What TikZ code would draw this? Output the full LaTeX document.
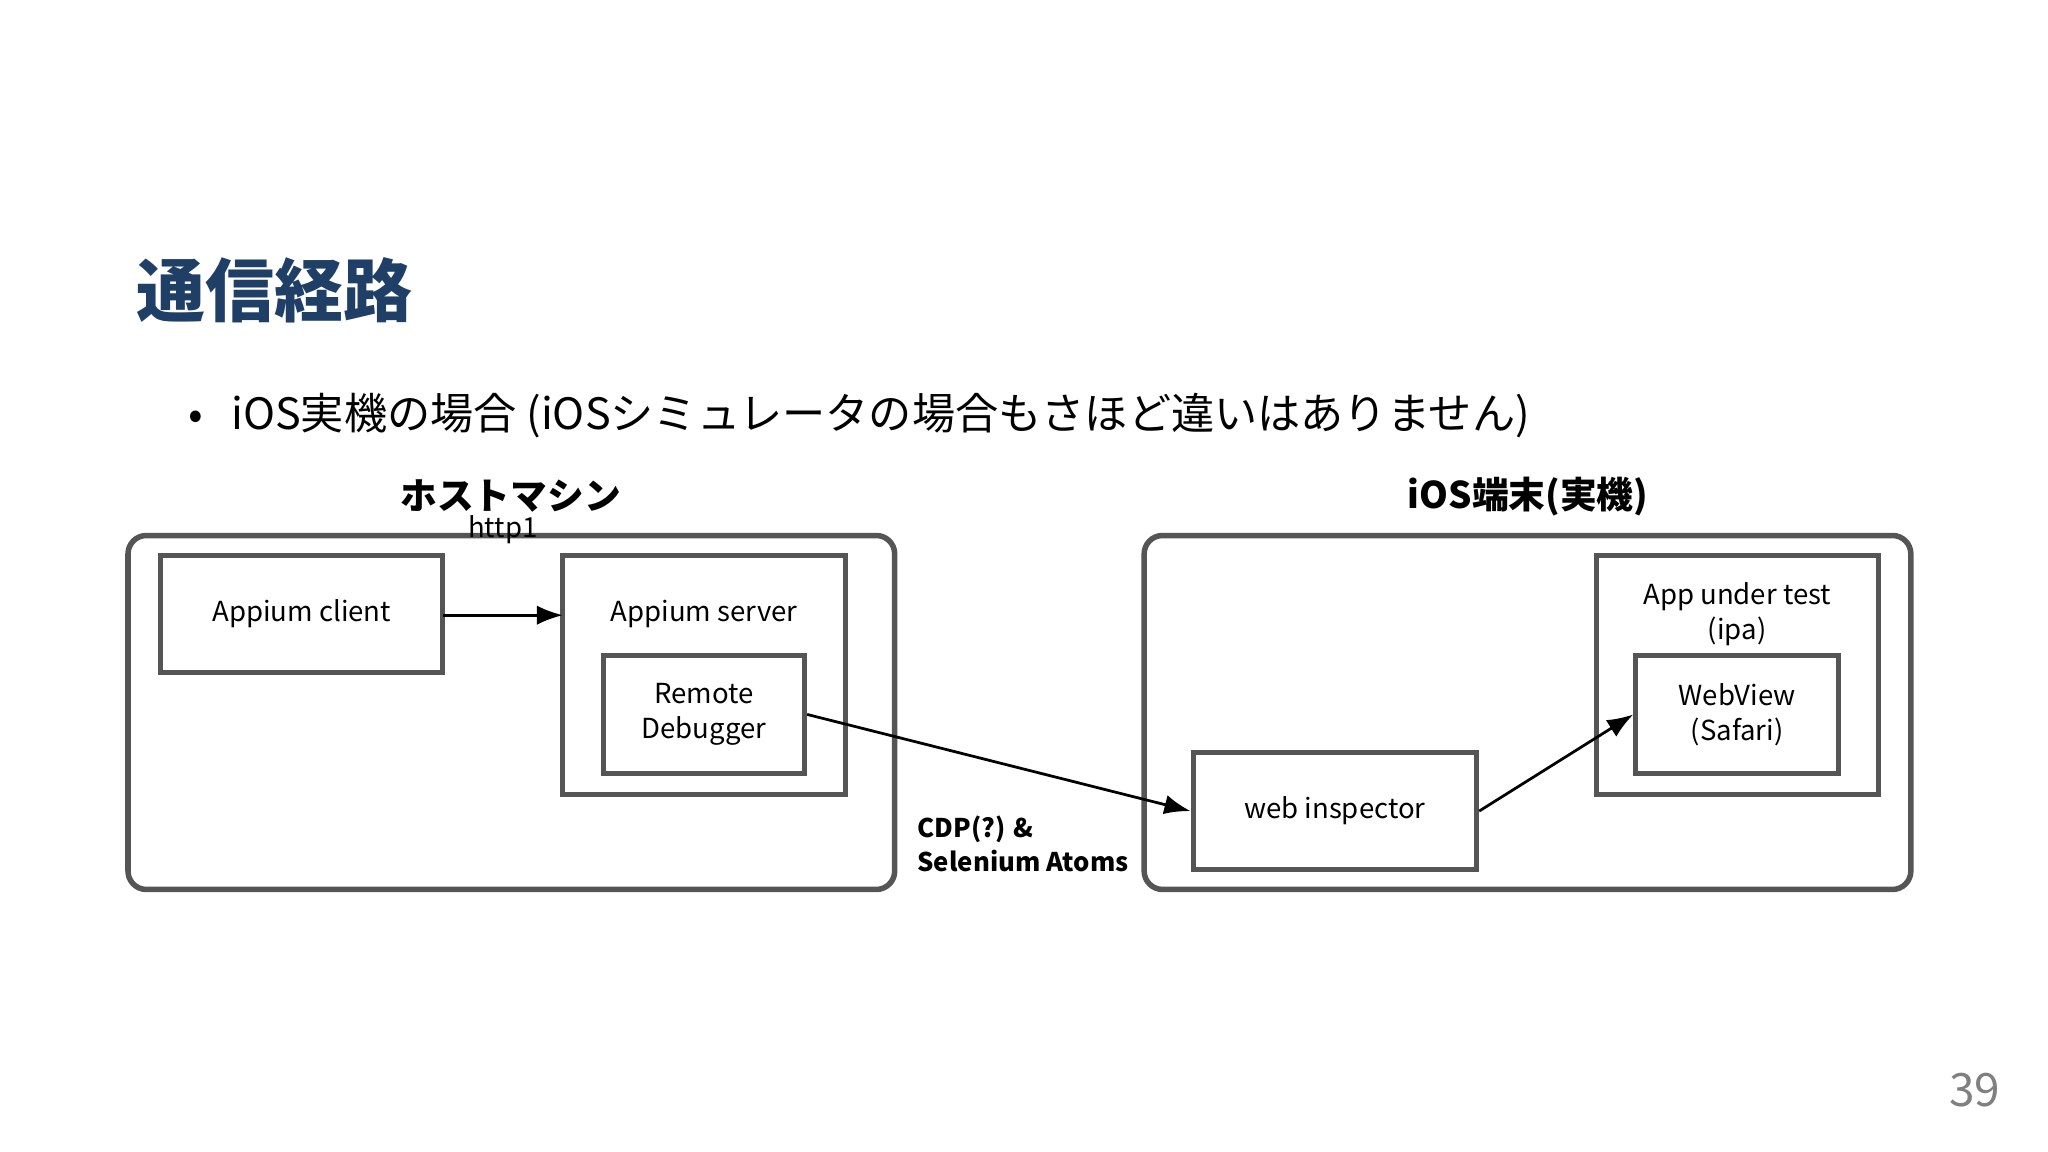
\documentclass[tikz,border=0pt]{standalone}
\usepackage{fontspec}
\setmainfont{Noto Sans CJK JP}
\usetikzlibrary{arrows.meta}
\definecolor{titleblue}{HTML}{1F3F66}
\definecolor{framegray}{HTML}{555555}
\tikzset{
  frame/.style={draw=framegray, line width=1.2pt, rounded corners=4pt},
  blk/.style={draw=framegray, line width=1.1pt, inner sep=0pt, font=\fontsize{6}{7.6}\selectfont, align=center},
  conn/.style={-{Latex[length=2mm]}, line width=0.6pt}
}
\begin{document}
\begin{tikzpicture}[x=0.01cm,y=-0.01cm]
\useasboundingbox (0,0) rectangle (1568,882);
\node[anchor=west, font=\fontsize{15}{18}\bfseries\selectfont, text=titleblue] (title) at (92,222) {通信経路};
\node[font=\fontsize{9.4}{11}\selectfont, anchor=west] (bullet) at (132,318) {•\hspace{4pt} iOS実機の場合 (iOSシミュレータの場合もさほど違いはありません)};
\node[font=\fontsize{8}{10}\bfseries\selectfont] (hostlbl) at (391,380) {ホストマシン};
\node[font=\fontsize{8}{10}\bfseries\selectfont] (ioslbl) at (1170,380) {iOS端末(実機)};
% outer frames
\draw[frame] (98,410) rectangle (685,681);
\draw[frame] (876,410) rectangle (1463,681);
% host side
\draw[blk] (123,425) rectangle (339,515);
\node[font=\fontsize{6}{7.6}\selectfont] (client) at (231,470) {Appium client};
\draw[blk] (431,425) rectangle (647,608);
\node[font=\fontsize{6}{7.6}\selectfont] (server) at (539,470) {Appium server};
\node[blk, minimum width=1.54cm, minimum height=0.9cm] (debugger) at (539,547) {Remote\\Debugger};
% device side
\draw[blk] (1222,425) rectangle (1438,608);
\node[font=\fontsize{6}{7.6}\selectfont, align=center] (aut) at (1330,470) {App under test\\(ipa)};
\node[blk, minimum width=1.55cm, minimum height=0.9cm] (webview) at (1330,547) {WebView\\(Safari)};
\node[blk, minimum width=2.17cm, minimum height=0.9cm] (inspector) at (1022,621) {web inspector};
% connectors
\coordinate (clientR) at (339,471);
\coordinate (serverL) at (431,471);
\draw[conn] (clientR) -- (serverL) node[midway, above=12pt, font=\fontsize{6}{7.6}\selectfont] {http1};
\draw[conn] (debugger.east) -- (inspector.west);
\draw[conn] (inspector.east) -- (webview.west);
\node[anchor=north west, align=left, font=\fontsize{5.6}{7.4}\bfseries\selectfont] (cdp) at (690,612) {CDP(?) \&\\Selenium Atoms};
\node[text=gray, font=\fontsize{10}{12}\selectfont] (page) at (1512,835) {39};
\end{tikzpicture}
\end{document}
